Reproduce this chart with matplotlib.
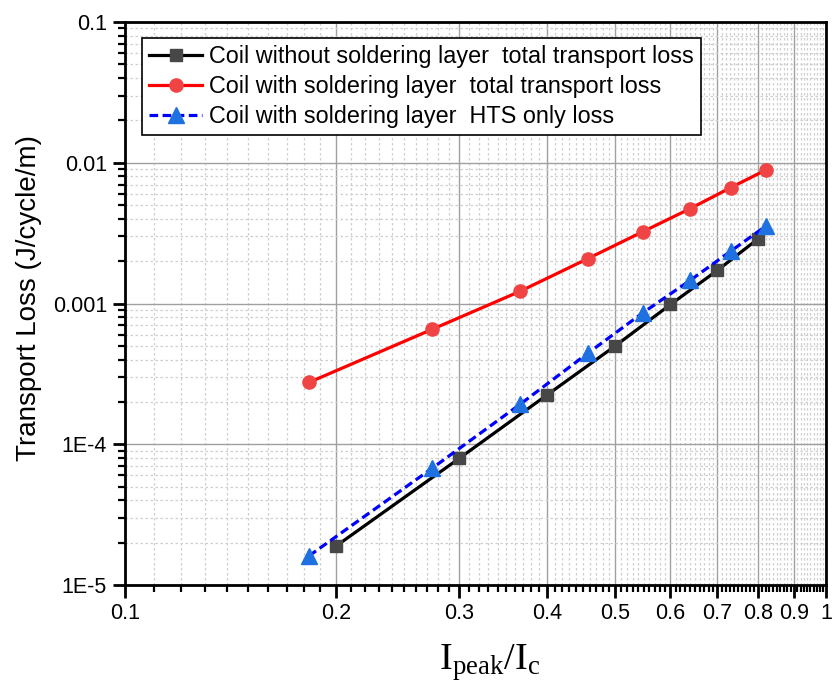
import matplotlib
matplotlib.use("Agg")
import matplotlib.pyplot as plt
from matplotlib.ticker import FixedLocator, FixedFormatter, NullFormatter

plt.rcParams['font.family'] = ['Liberation Sans', 'DejaVu Sans']
plt.rcParams['mathtext.fontset'] = 'custom'
plt.rcParams['mathtext.rm'] = 'Liberation Serif'
plt.rcParams['mathtext.it'] = 'Liberation Serif:italic'

# Normalised peak current and measured AC transport losses
x_without = [0.2, 0.3, 0.4, 0.5, 0.6, 0.7, 0.8]
loss_without = [1.89e-5, 7.96e-5, 2.24e-4, 4.98e-4, 9.84e-4, 1.72e-3, 2.88e-3]

x_with = [0.183, 0.274, 0.366, 0.457, 0.548, 0.640, 0.731, 0.822]
loss_with_total = [2.75e-4, 6.54e-4, 1.22e-3, 2.08e-3, 3.24e-3, 4.72e-3, 6.65e-3, 8.92e-3]
loss_with_hts = [1.61e-5, 6.73e-5, 1.92e-4, 4.42e-4, 8.59e-4, 1.46e-3, 2.35e-3, 3.57e-3]

labels = [
    "Coil without soldering layer  total transport loss",
    "Coil with soldering layer  total transport loss",
    "Coil with soldering layer  HTS only loss",
]

x_ticks = [0.1, 0.2, 0.3, 0.4, 0.5, 0.6, 0.7, 0.8, 0.9, 1.0]
x_tick_labels = ["0.1", "0.2", "0.3", "0.4", "0.5", "0.6", "0.7", "0.8", "0.9", "1"]
y_ticks = [1e-5, 1e-4, 1e-3, 1e-2, 1e-1]
y_tick_labels = ["1E-5", "1E-4", "0.001", "0.01", "0.1"]

fig = plt.figure(figsize=(8.32, 6.84), dpi=100)
ax = fig.add_axes([125 / 832, 1 - 585 / 684, 701 / 832, 563 / 684])
ax.set_xscale('log')
ax.set_yscale('log')
ax.set_xlim(0.1, 1.0)
ax.set_ylim(1e-5, 0.1)

# ticks: 0.1 steps labelled, 0.01 steps as minor
ax.xaxis.set_major_locator(FixedLocator(x_ticks))
ax.xaxis.set_major_formatter(FixedFormatter(x_tick_labels))
x_minor = [k / 100 for k in range(11, 100) if k % 10 != 0]
ax.xaxis.set_minor_locator(FixedLocator(x_minor))
ax.xaxis.set_minor_formatter(NullFormatter())

ax.yaxis.set_major_locator(FixedLocator(y_ticks))
ax.yaxis.set_major_formatter(FixedFormatter(y_tick_labels))
y_minor = [m * 10.0 ** e for e in range(-5, -1) for m in range(2, 10)]
ax.yaxis.set_minor_locator(FixedLocator(y_minor))
ax.yaxis.set_minor_formatter(NullFormatter())

ax.set_axisbelow(True)
ax.grid(which='major', color='#a0a0a0', lw=1.0, ls='-')
ax.grid(which='minor', color='#cfcfcf', lw=0.9, ls=(0, (2, 2)))

for s in ax.spines.values():
    s.set_linewidth(2.0)
    s.set_color('black')

ax.tick_params(which='major', direction='out', length=9, width=2.0,
               labelsize=15.5, pad=4, top=False, right=False)
ax.tick_params(which='minor', direction='out', length=5, width=1.6,
               top=False, right=False)

ax.plot(x_without, loss_without, color='black', lw=2.3, marker='s', ms=8,
        mfc='#474747', mec='#474747', label=labels[0], zorder=3)
ax.plot(x_with, loss_with_total, color='#ff0000', lw=2.3, marker='o', ms=9.5,
        mfc='#f04444', mec='#f04444', label=labels[1], zorder=3)
ax.plot(x_with, loss_with_hts, color='#0000ff', lw=2.3, ls=(0, (2.7, 1.4)),
        marker='^', ms=11, mfc='#1f70e0', mec='#1f70e0', label=labels[2], zorder=3)

leg = ax.legend(loc='upper left', bbox_to_anchor=(0.024, 0.972), borderaxespad=0,
                frameon=True, fancybox=False, edgecolor='black', framealpha=1,
                fontsize=16.8, handlelength=2.3, handletextpad=0.3,
                labelspacing=0.3, borderpad=0.3)
leg.get_frame().set_linewidth(1.2)

ax.set_ylabel('Transport Loss (J/cycle/m)', fontsize=20)
ax.yaxis.set_label_coords(-0.118, 0.51)
ax.set_xlabel(r'$\mathrm{I}_{\mathrm{peak}}/\mathrm{I}_{\mathrm{c}}$', fontsize=27.5)
ax.xaxis.set_label_coords(0.52, -0.102)

fig.savefig('out.png', dpi=100)
